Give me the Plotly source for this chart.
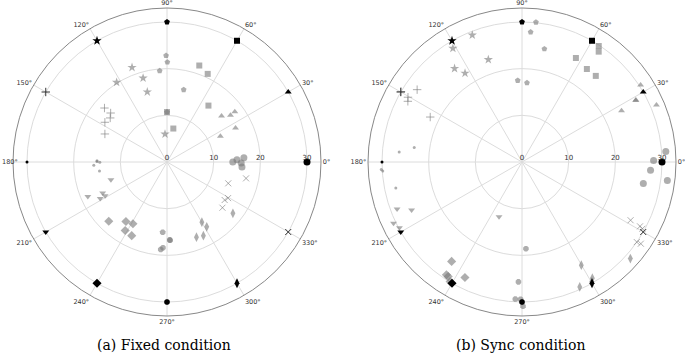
import plotly.graph_objects as go

# Reference directions (deg) and marker symbols
ref_angles = [0, 30, 60, 90, 120, 150, 180, 210, 240, 270, 300, 330]
ref_radius = 30
symbols = ["circle", "triangle-up", "square", "pentagon", "star", "cross-thin",
           "circle", "triangle-down", "diamond", "octagon", "diamond-tall", "x-thin"]
sizes = [7, 6, 6, 6, 7, 6, 3, 6, 7, 6, 7, 6]

# Fixed condition responses: (theta deg, r) per direction
fixed_theta = [
    [0, 1.9, 3.2, -0.8, -3.8],
    [40.2, 36.4, 36.6, 26.4, 25.7],
    [71.5, 65.2, 53.7, 79.3, 90],
    [90.5, 89.8, 94.6, 77, 90],
    [110.3, 105.9, 122.3, 105.7, 94.1],
    [139.2, 139, 142.2, 147.4, 155.7],
    [178.9, 180.3, 182.6, 187.6, 179.5],
    [197.5, 205.7, 203.5, 208.6, 208.6],
    [225.5, 235.4, 241.1, 238.6, 244.4],
    [266.5, 272, 267.3, 265.9, 272.3],
    [300.1, 301.5, 291.4, 296.3, 322.1],
    [340.8, 348.3, 329.4, 326.6, 320.5],
]
fixed_r = [
    [14.1, 15.0, 16.5, 15.9, 16.1],
    [15.3, 16.9, 18.1, 16.4, 12.7],
    [21.8, 20.8, 15.0, 7.3, 10.7],
    [22.8, 21.4, 19.6, 15.9, 10.7],
    [21.6, 18.7, 20.2, 15.6, 6.0],
    [17.7, 16.0, 15.4, 15.8, 14.6],
    [15.0, 14.4, 15.7, 14.6, 15.0],
    [12.6, 15.3, 18.5, 16.3, 15.1],
    [17.8, 15.5, 15.1, 17.2, 17.5],
    [15.1, 16.7, 18.4, 18.8, 16.8],
    [14.9, 16.3, 17.3, 17.6, 17.9],
    [13.9, 17.3, 15.2, 14.8, 15.4],
]

# Sync condition responses
sync_theta = [
    [4.2, 0.7, -3.7, -7.3, -10],
    [33, 23, 28.4, 27.3, 28.6],
    [56.5, 55.2, 62.6, 55.1, 49.4],
    [84.3, 86.2, 78.8, 93, 86.4],
    [111.4, 121.3, 125.8, 122.7, 108.2],
    [145.4, 150.4, 152, 153.9, 149.8],
    [175.4, 172.4, 183.1, 183.7, 191.6],
    [200.6, 203.5, 205.5, 208.2, 247.2],
    [234.7, 236.2, 237.2, 243.7, 239],
    [272.6, 268.3, 267.2, 269.4, 270.4],
    [299.9, 294.8, 301.2, 318.3, 300.2],
    [331.8, 331.4, 331, 325.1, 325.5],
]
sync_r = [
    [30.9, 28.2, 27.6, 31.4, 26.4],
    [30.3, 31.3, 27.7, 24.0, 27.8],
    [29.8, 28.8, 25.1, 24.3, 24.3],
    [30.1, 27.9, 24.7, 17.5, 17.0],
    [29.2, 28.5, 24.7, 22.6, 23.1],
    [27.3, 28.1, 27.7, 21.9, 30.0],
    [26.4, 23.3, 30.2, 29.9, 27.6],
    [28.6, 25.8, 30.5, 29.8, 12.7],
    [26.1, 29.1, 29.2, 27.6, 29.9],
    [18.6, 25.7, 29.4, 29.4, 30.9],
    [25.5, 29.5, 29.1, 31.1, 29.7],
    [26.4, 28.8, 29.5, 30.0, 30.9],
]

radial_ticks = [0, 10, 20, 30]
angle_ticks = list(range(0, 360, 30))
angle_labels = [f"{a}°" for a in angle_ticks]
captions = ["(a) Fixed condition", "(b) Sync condition"]

W, H = 685, 355

fig = go.Figure()
gray = "rgba(120,120,120,0.6)"

for pi, (th_all, r_all) in enumerate([(fixed_theta, fixed_r), (sync_theta, sync_r)]):
    pname = "polar" if pi == 0 else "polar2"
    for k in range(len(ref_angles)):
        sym = symbols[k]
        thin = sym.endswith("-thin")
        fig.add_trace(go.Scatterpolar(
            r=r_all[k], theta=th_all[k], mode="markers", subplot=pname,
            marker=dict(symbol=sym, size=sizes[k], color=gray,
                        line=dict(width=1 if thin else 0, color=gray)),
            showlegend=False, hoverinfo="skip"))
        fig.add_trace(go.Scatterpolar(
            r=[ref_radius], theta=[ref_angles[k]], mode="markers", subplot=pname,
            marker=dict(symbol=sym, size=sizes[k], color="black",
                        line=dict(width=1 if thin else 0, color="#333")),
            showlegend=False, hoverinfo="skip"))

tickfont_ang = dict(size=6.5, color="#333", family="DejaVu Sans")

def polar_cfg(labels):
    return dict(
        bgcolor="white",
        radialaxis=dict(range=[0, 33], tickvals=radial_ticks, showline=False,
                        gridcolor="#dcdcdc", gridwidth=1, angle=0, tickangle=0,
                        ticks="", tickfont=dict(size=7, color="#333", family="DejaVu Sans"),
                        side="counterclockwise"),
        angularaxis=dict(tickmode="array", tickvals=angle_ticks, ticktext=labels,
                         direction="counterclockwise", ticklen=0,
                         rotation=0, gridcolor="#dcdcdc", gridwidth=1, linecolor="#888",
                         linewidth=1, ticks="", showline=True, tickfont=tickfont_ang),
    )

# left plot: the 180° label sits against the page edge, so it is placed as an annotation
left_labels = [("" if a == 180 else lab) for a, lab in zip(angle_ticks, angle_labels)]

ydom = [(H - 316) / H, (H - 8) / H]

fig.update_layout(
    width=W, height=H, margin=dict(l=0, r=0, t=0, b=0),
    paper_bgcolor="white", plot_bgcolor="white",
    polar=dict(domain=dict(x=[13 / W, 321 / W], y=ydom), **polar_cfg(left_labels)),
    polar2=dict(domain=dict(x=[368 / W, 676 / W], y=ydom), **polar_cfg(angle_labels)),
    annotations=[
        dict(text=captions[0], x=164 / W, y=1 - 345 / H, xref="paper", yref="paper",
             xanchor="center", yanchor="middle", showarrow=False,
             font=dict(size=14, family="DejaVu Serif", color="black")),
        dict(text=captions[1], x=520 / W, y=1 - 345 / H, xref="paper", yref="paper",
             xanchor="center", yanchor="middle", showarrow=False,
             font=dict(size=14, family="DejaVu Serif", color="black")),
        dict(text=angle_labels[6], x=0, y=1 - 162 / H, xref="paper", yref="paper",
             xanchor="left", yanchor="middle", showarrow=False, font=tickfont_ang),
    ],
)

fig.write_html("out.html", config={"displayModeBar": False, "staticPlot": True},
               post_script="document.body.style.margin='0';document.body.style.overflow='hidden';")
